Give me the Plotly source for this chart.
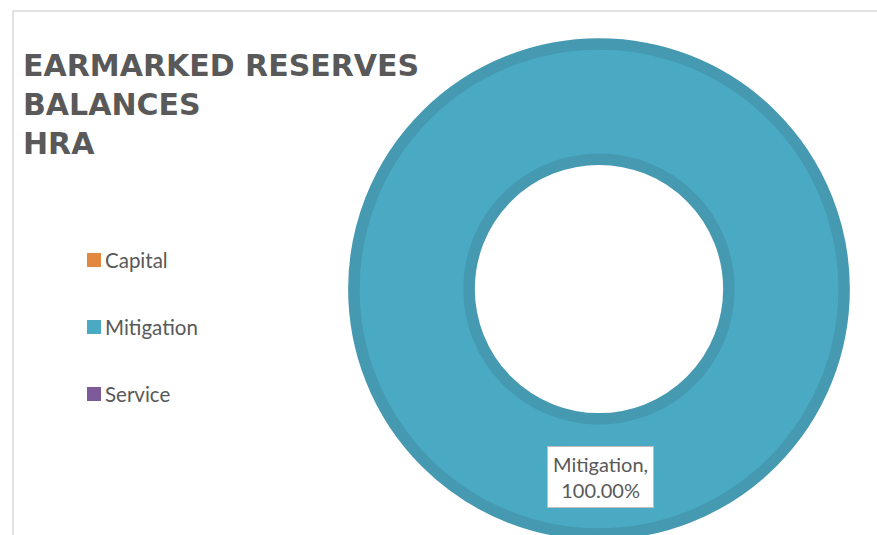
import plotly.graph_objects as go

# Earmarked reserve balances (HRA), share of total in percent
categories = ["Capital", "Mitigation", "Service"]
shares = [0.0, 100.0, 0.0]
colors = ["#E3883F", "#4AA9C3", "#7D5B9A"]
edge_colors = ["#C9742F", "#4599B1", "#6A4C86"]

title_lines = ["EARMARKED RESERVES", "BALANCES", "HRA"]

W, H = 877, 535
M_L, M_R, M_T, M_B = 0, 0, 44, 1
PLOT_H = H - M_T - M_B


def px_x(x):
    return x / W


def px_y(y):
    return (H - M_B - y) / PLOT_H


fig = go.Figure()

fig.add_trace(go.Pie(
    labels=categories,
    values=shares,
    hole=0.53,
    sort=False,
    direction="clockwise",
    textinfo="none",
    hoverinfo="label+percent",
    showlegend=False,
    marker=dict(
        colors=colors,
        line=dict(color=edge_colors, width=[0 if v == 0 else 11.5 for v in shares]),
    ),
    domain=dict(x=[px_x(354), px_x(844)], y=[0, 1]),
))

# data label for the largest slice
total = sum(shares)
idx = max(range(len(shares)), key=lambda i: shares[i])
fig.add_annotation(
    x=px_x(600), y=px_y(477), xref="paper", yref="paper",
    xanchor="center", yanchor="middle",
    text=f"{categories[idx]},<br>{shares[idx] / total * 100:.2f}%",
    showarrow=False,
    font=dict(family="Lato, Open Sans, sans-serif", size=20, color="#595959"),
    bgcolor="#FFFFFF", bordercolor="#BFBFBF", borderwidth=1,
    borderpad=5, align="center",
)

# title block
fig.add_annotation(
    x=px_x(21), y=px_y(46), xref="paper", yref="paper",
    xanchor="left", yanchor="top", align="left",
    text="<br>".join(title_lines),
    showarrow=False,
    font=dict(family="DejaVu Sans, sans-serif", size=30, color="#595959", weight="bold"),
)

# legend drawn as swatches with labels
shapes = []
for i, (cat, col) in enumerate(zip(categories, colors)):
    cy = 260 + i * 67
    shapes.append(dict(
        type="rect", xref="paper", yref="paper",
        x0=px_x(87), x1=px_x(101), y0=px_y(cy - 7), y1=px_y(cy + 7),
        fillcolor=col, line=dict(width=0),
    ))
    fig.add_annotation(
        x=px_x(103), y=px_y(cy), xref="paper", yref="paper",
        xanchor="left", yanchor="middle", text=cat, showarrow=False,
        font=dict(family="Lato, Open Sans, sans-serif", size=20.5, color="#595959"),
    )

# chart frame
shapes.append(dict(type="line", xref="paper", yref="paper",
                   x0=px_x(13), x1=px_x(877), y0=px_y(11), y1=px_y(11),
                   line=dict(color="#D9D9D9", width=1.5)))
shapes.append(dict(type="line", xref="paper", yref="paper",
                   x0=px_x(13), x1=px_x(13), y0=px_y(11), y1=px_y(540),
                   line=dict(color="#D9D9D9", width=1.5)))

fig.update_layout(
    width=W, height=H,
    margin=dict(l=M_L, r=M_R, t=M_T, b=M_B, autoexpand=False),
    paper_bgcolor="#FFFFFF", plot_bgcolor="#FFFFFF",
    shapes=shapes,
)

fig.write_html("out.html")
